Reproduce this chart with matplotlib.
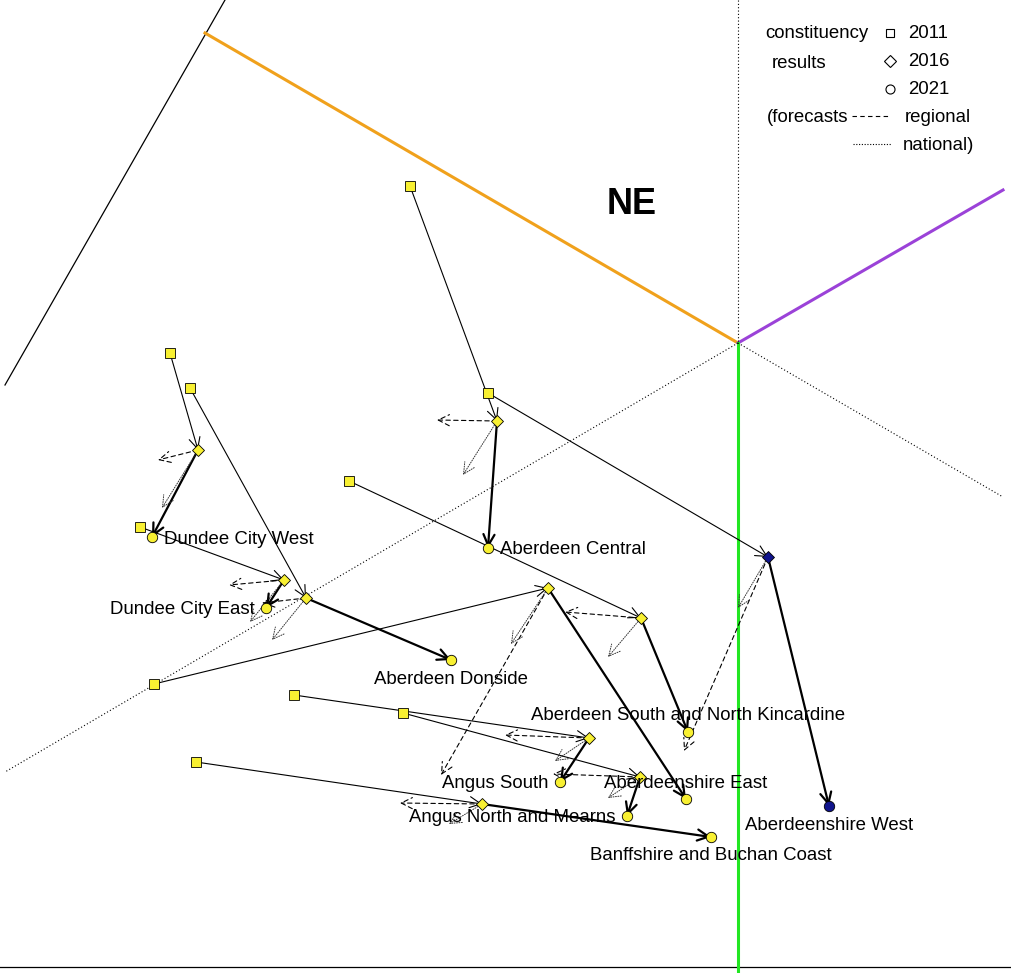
import matplotlib.pyplot as plt

plt.rcParams['font.family'] = ['Liberation Sans', 'DejaVu Sans']

# constituencies, positions on the (pixel-like) triangle plane
names = ['Dundee City West', 'Aberdeen Central', 'Dundee City East', 'Aberdeen Donside',
         'Aberdeen South and North Kincardine', 'Angus South', 'Aberdeenshire East',
         'Aberdeenshire West', 'Angus North and Mearns', 'Banffshire and Buchan Coast']
res_2011 = [(170, 353), (410, 186), (140, 527), (190, 388), (349, 481),
            (294, 695), (154, 684), (488, 393), (403, 713), (196, 762)]
res_2016 = [(198, 450), (497, 421), (284, 580), (306, 598), (641, 618),
            (589, 738), (548, 588), (768, 557), (640, 777), (482, 804)]
res_2021 = [(152, 537), (488, 548), (266, 608), (451, 660), (688, 732),
            (560, 782), (686, 799), (829, 806), (627, 816), (711, 837)]
win_2011 = ['SNP'] * 10
win_2016 = ['SNP'] * 7 + ['Con'] + ['SNP'] * 2
win_2021 = ['SNP'] * 7 + ['Con'] + ['SNP'] * 2
fc_regional = [(158, 460), (437, 420), (229, 585), (262, 603), (565, 612),
               (505, 735), (441, 775), (684, 751), (553, 774), (400, 803)]
fc_national = [(162, 508), (463, 475), (250, 622), (272, 640), (608, 657),
               (555, 761), (511, 644), (738, 608), (608, 798), (449, 824)]
label_side = ['right', 'right', 'left', 'below', 'above',
              'left', 'above', 'below', 'left', 'below']

# triangle frame segments
frame_solid = [((5, 385), (225, 0), 'black'), ((0, 967), (1012, 967), 'black'),
               ((205, 33), (738, 343), '#f0a11c'), ((738, 343), (1003, 190), '#9b42d8'),
               ((738, 343), (738, 973), '#22e622')]
frame_dotted = [((738, 0), (738, 343)), ((738, 343), (5, 772)), ((738, 343), (1003, 497))]

party_col = {'SNP': '#f8f032', 'Con': '#10148c'}

fig = plt.figure(figsize=(10.12, 9.73), dpi=100)
ax = fig.add_axes([0, 0, 1, 1])
ax.set_xlim(0, 1012)
ax.set_ylim(973, 0)
ax.axis('off')

for (x0, y0), (x1, y1), c in frame_solid:
    lw = 2.2 if c != 'black' else 0.9
    ax.plot([x0, x1], [y0, y1], color=c, lw=lw, zorder=1)
for (x0, y0), (x1, y1) in frame_dotted:
    ax.plot([x0, x1], [y0, y1], color='black', lw=0.8, ls=(0, (1, 2)), zorder=1)

ax.text(632, 205, 'NE', fontsize=26, fontweight='bold', ha='center', va='center')


def arrow(p0, p1, lw, ls='-', color='black', scale=10):
    ax.annotate('', xy=p1, xytext=p0,
                arrowprops=dict(arrowstyle='->,head_length=0.8,head_width=0.4',
                                lw=lw, ls=ls, color=color, shrinkA=0, shrinkB=0,
                                mutation_scale=scale), zorder=3)


for i in range(len(names)):
    arrow(res_2011[i], res_2016[i], 0.8)
    arrow(res_2016[i], res_2021[i], 1.6)
    arrow(res_2016[i], fc_regional[i], 0.8, ls=(0, (4, 3)))
    arrow(res_2016[i], fc_national[i], 0.7, ls=(0, (1, 1.5)), color='#333333')

for i in range(len(names)):
    ax.plot(*res_2011[i], marker='s', ms=6.5, mfc=party_col[win_2011[i]], mec='black', mew=0.6, zorder=4)
    ax.plot(*res_2016[i], marker='D', ms=6.5, mfc=party_col[win_2016[i]], mec='black', mew=0.6, zorder=4)
    ax.plot(*res_2021[i], marker='o', ms=7.5, mfc=party_col[win_2021[i]], mec='black', mew=0.6, zorder=4)

offsets = {'right': (12, 2, 'left', 'center'), 'left': (-11, 2, 'right', 'center'),
           'above': (0, -16, 'center', 'center'), 'below': (0, 19, 'center', 'center')}
for i, nm in enumerate(names):
    dx, dy, ha, va = offsets[label_side[i]]
    x, y = res_2021[i]
    ax.text(x + dx, y + dy, nm, fontsize=13.4, ha=ha, va=va, zorder=5)

# legend
ax.text(817, 34, 'constituency', fontsize=13.4, ha='center', va='center')
ax.text(799, 63, 'results', fontsize=13.4, ha='center', va='center')
leg_years = ['2011', '2016', '2021']
leg_marks = ['s', 'D', 'o']
leg_sizes = [6, 6, 6.5]
for k, (yr, mk) in enumerate(zip(leg_years, leg_marks)):
    yy = 33 + 28 * k
    ax.plot(890, yy, marker=mk, ms=leg_sizes[k], mfc='white', mec='black', mew=0.8)
    ax.text(908, yy + 1, yr, fontsize=13.4, ha='left', va='center')
ax.text(767, 118, '(forecasts', fontsize=13.4, ha='left', va='center')
ax.plot([852, 890], [116, 116], color='black', lw=0.8, ls=(0, (4, 3)))
ax.text(905, 118, 'regional', fontsize=13.4, ha='left', va='center')
ax.plot([853, 891], [144, 144], color='black', lw=0.8, ls=(0, (1, 1.5)))
ax.text(903, 146, 'national)', fontsize=13.4, ha='left', va='center')

fig.savefig('out.png', dpi=100)
